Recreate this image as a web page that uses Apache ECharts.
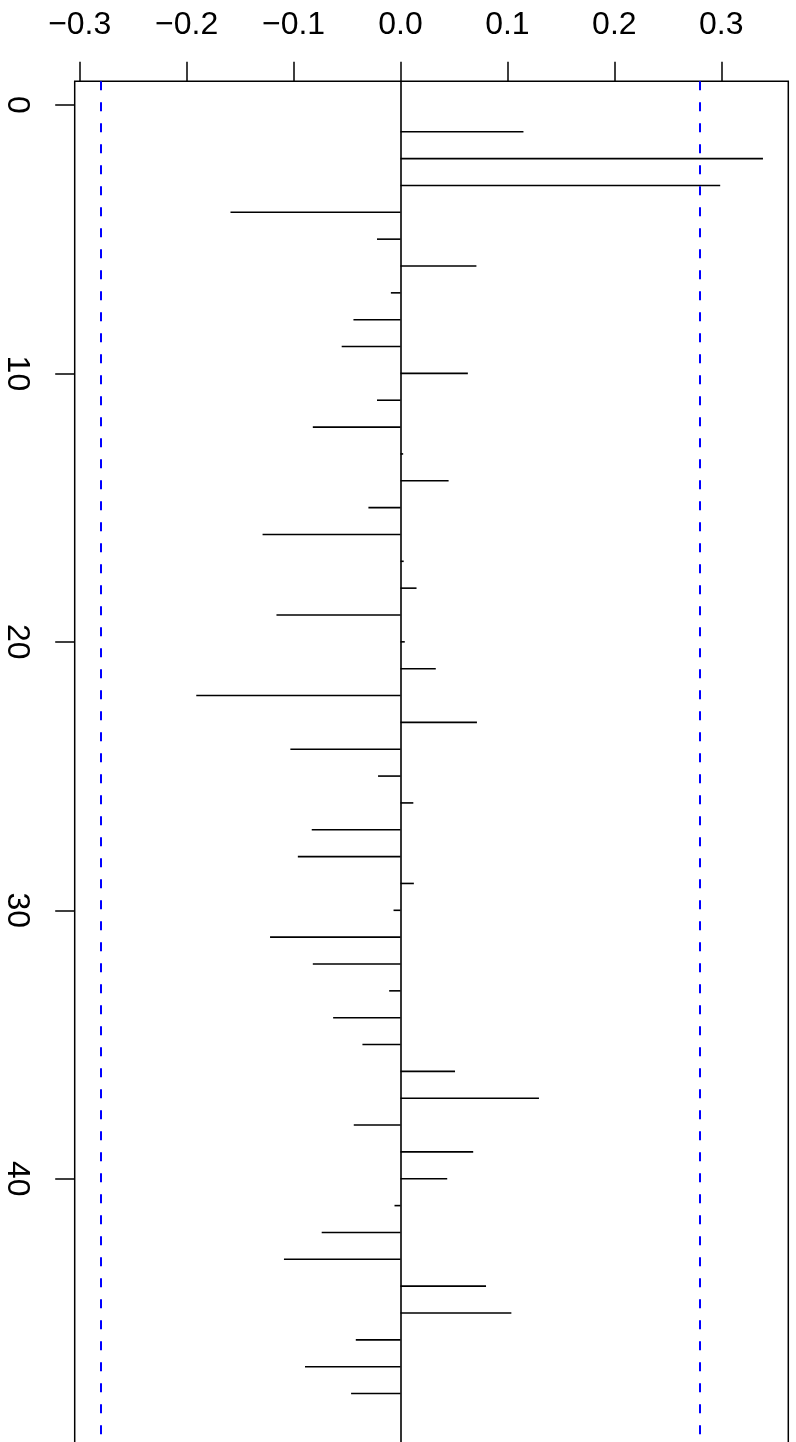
<!DOCTYPE html>
<html><head><meta charset="utf-8">
<script src="https://cdn.jsdelivr.net/npm/echarts@6/dist/echarts.min.js"></script>
<style>html,body{margin:0;padding:0;background:#fff}#c{width:796px;height:1442px}</style>
</head><body><div id="c"></div>
<script>
const lags = [1,2,3,4,5,6,7,8,9,10,11,12,13,14,15,16,17,18,19,20,21,22,23,24,
  25,26,27,28,29,30,31,32,33,34,35,36,37,38,39,40,41,42,43,44,45,46,47,48];
const acfValues = [0.115,0.339,0.299,-0.159,-0.022,0.071,-0.009,-0.044,-0.055,0.063,
  -0.022,-0.082,0.0025,0.045,-0.030,-0.129,0.003,0.015,-0.116,0.004,
  0.033,-0.191,0.0715,-0.103,-0.021,0.012,-0.083,-0.096,0.0125,-0.0065,
  -0.122,-0.082,-0.0106,-0.063,-0.0356,0.051,0.1295,-0.0437,0.068,0.0437,
  -0.0056,-0.0737,-0.109,0.080,0.1037,-0.0418,-0.0893,-0.0462];
const ciBound = 0.28;
const xTicks = [-0.3,-0.2,-0.1,0,0.1,0.2,0.3];
const xTickLabels = ['\u22120.3','\u22120.2','\u22120.1','0.0','0.1','0.2','0.3'];
const yTicks = [0,10,20,30,40];
const yTickLabels = ['0','10','20','30','40'];
const xRange = [-0.3047, 0.3627];
const yRange = [-0.88, 49.88];

const chart = echarts.init(document.getElementById('c'), null, {renderer:'canvas'});
const seriesData = lags.map((l,i)=>[acfValues[i], l]);
const FONT = '"Liberation Sans", Arial, sans-serif';
function pick(ticks, labels){ return function(v){ for (let k=0;k<ticks.length;k++){ if (Math.abs(ticks[k]-v)<1e-9) return labels[k]; } return ''; }; }
chart.setOption({
  animation:false,
  backgroundColor:'#fff',
  grid:{left:74.7, top:81.3, right:7.7, height:1362.7, outerBoundsMode:'none', containLabel:false,
    show:true, borderColor:'#000', borderWidth:1.5, backgroundColor:'transparent'},
  xAxis:{type:'value', position:'top', min:xRange[0], max:xRange[1],
    axisLine:{show:false, onZero:false}, splitLine:{show:false},
    axisTick:{show:true, inside:false, customValues:xTicks, length:19.5, lineStyle:{color:'#000', width:1.5}},
    axisLabel:{show:true, customValues:xTicks, fontSize:32, color:'#000', fontFamily:FONT, margin:40,
      formatter:pick(xTicks, xTickLabels)}},
  yAxis:{type:'value', inverse:true, min:yRange[0], max:yRange[1],
    axisLine:{show:false, onZero:false}, splitLine:{show:false},
    axisTick:{show:true, inside:false, customValues:yTicks, length:19.5, lineStyle:{color:'#000', width:1.5}},
    axisLabel:{show:true, customValues:yTicks, rotate:-90, fontSize:32, color:'#000', fontFamily:FONT, margin:42,
      formatter:pick(yTicks, yTickLabels)}},
  series:[{
    type:'custom',
    data:seriesData,
    encode:{x:0, y:1},
    renderItem:function(params, api){
      const p0 = api.coord([0, api.value(1)]);
      const p1 = api.coord([api.value(0), api.value(1)]);
      return {type:'line', shape:{x1:p0[0], y1:p0[1], x2:p1[0], y2:p1[1]}, style:{stroke:'#000', lineWidth:1.6}};
    },
    markLine:{silent:true, symbol:'none', label:{show:false}, animation:false,
      data:[
        {xAxis:0, lineStyle:{color:'#000', width:1.6, type:'solid'}},
        {xAxis:-ciBound, lineStyle:{color:'#0000ff', width:2, type:[9,12]}},
        {xAxis:ciBound, lineStyle:{color:'#0000ff', width:2, type:[9,12]}}
      ]}
  }]
});
</script></body></html>
